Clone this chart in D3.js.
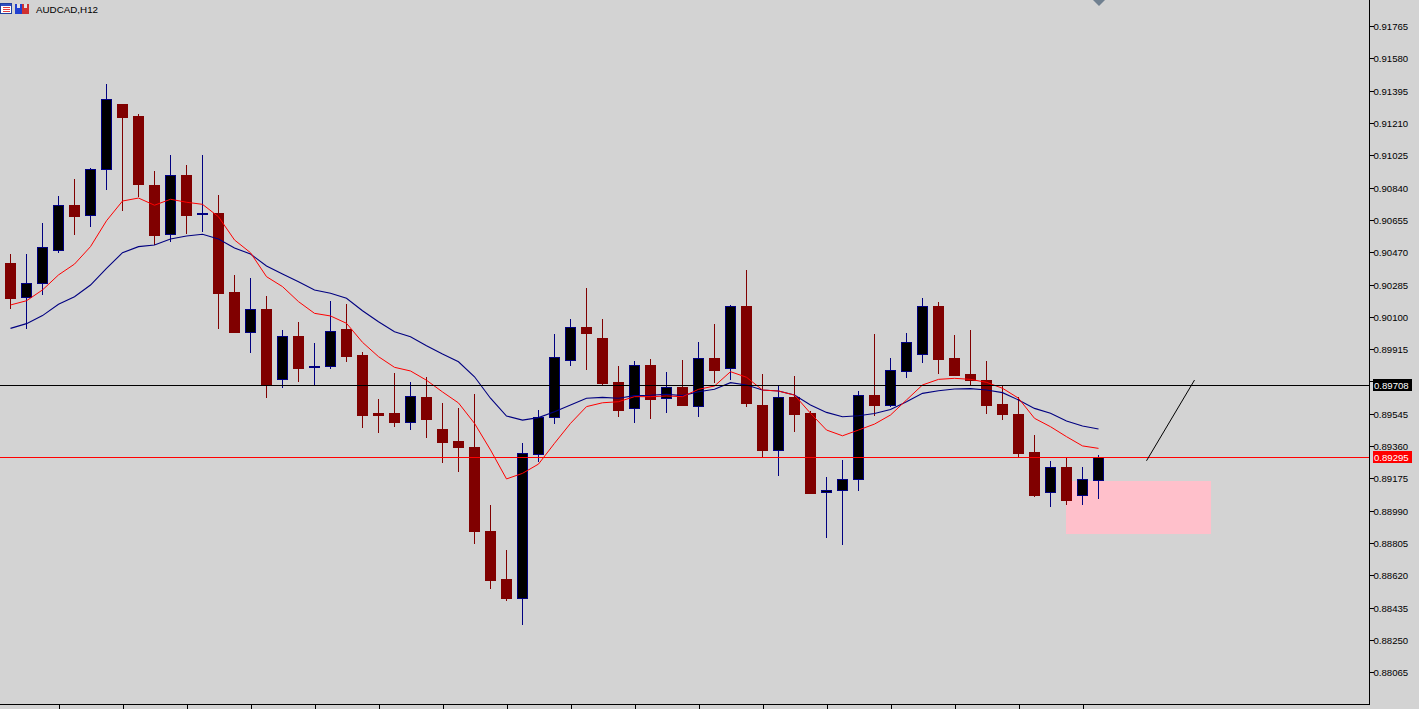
<!DOCTYPE html>
<html>
<head>
<meta charset="utf-8">
<script src="https://cdn.jsdelivr.net/npm/d3@7"></script>
<style>
  html, body { margin: 0; padding: 0; background: #d3d3d3; overflow: hidden; }
  svg { display: block; }
</style>
</head>
<body>
<svg id="chart" width="1419" height="709"></svg>
<script>
// ---------- DATA (AUDCAD, H12) ----------
const symbolTitle = "AUDCAD,H12";

const opens = [
  0.90408, 0.90212, 0.90292, 0.90484, 0.90740, 0.90681, 0.90945, 0.91318, 0.91250, 0.90853,
  0.90573, 0.90912, 0.90689, 0.90694, 0.90242, 0.90015, 0.90145, 0.89746, 0.89990, 0.89810,
  0.89820, 0.90030, 0.89882, 0.89549, 0.89549, 0.89496, 0.89641, 0.89458, 0.89389, 0.89355,
  0.88874, 0.88599, 0.88492, 0.89316, 0.89525, 0.89855, 0.90042, 0.89979, 0.89727, 0.89576,
  0.89823, 0.89634, 0.89698, 0.89591, 0.89864, 0.89805, 0.90162, 0.89595, 0.89339, 0.89641,
  0.89549, 0.89100, 0.89107, 0.89173, 0.89652, 0.89597, 0.89788, 0.89885, 0.90162, 0.89863,
  0.89771, 0.89738, 0.89599, 0.89544, 0.89326, 0.89095, 0.89240, 0.89078, 0.89168
];
const highs = [
  0.90460, 0.90460, 0.90637, 0.90792, 0.90889, 0.90952, 0.91433, 0.91318, 0.91261, 0.90935,
  0.91027, 0.90969, 0.91027, 0.90797, 0.90339, 0.90322, 0.90219, 0.90025, 0.90070, 0.89950,
  0.90191, 0.90173, 0.89899, 0.89630, 0.89780, 0.89729, 0.89757, 0.89607, 0.89578, 0.89658,
  0.89023, 0.88765, 0.89378, 0.89567, 0.90002, 0.90088, 0.90265, 0.90088, 0.89819, 0.89847,
  0.89859, 0.89784, 0.89853, 0.89956, 0.90059, 0.90168, 0.90368, 0.89773, 0.89704, 0.89761,
  0.89561, 0.89183, 0.89280, 0.89677, 0.90002, 0.89864, 0.90007, 0.90208, 0.90185, 0.89996,
  0.90025, 0.89847, 0.89704, 0.89639, 0.89424, 0.89275, 0.89294, 0.89240, 0.89307
];
const lows = [
  0.90152, 0.90038, 0.90229, 0.90473, 0.90576, 0.90622, 0.90834, 0.90712, 0.90792, 0.90519,
  0.90536, 0.90580, 0.90593, 0.90038, 0.90012, 0.89899, 0.89643, 0.89700, 0.89734, 0.89717,
  0.89809, 0.89849, 0.89471, 0.89442, 0.89477, 0.89460, 0.89414, 0.89271, 0.89219, 0.88807,
  0.88549, 0.88481, 0.88343, 0.89275, 0.89492, 0.89826, 0.89803, 0.89717, 0.89532, 0.89500,
  0.89523, 0.89557, 0.89595, 0.89534, 0.89729, 0.89746, 0.89591, 0.89299, 0.89195, 0.89448,
  0.89090, 0.88841, 0.88801, 0.89110, 0.89536, 0.89591, 0.89757, 0.89843, 0.89780, 0.89767,
  0.89711, 0.89551, 0.89517, 0.89299, 0.89076, 0.89019, 0.89030, 0.89030, 0.89065
];
const closes = [
  0.90210, 0.90292, 0.90498, 0.90739, 0.90679, 0.90945, 0.91345, 0.91246, 0.90862, 0.90570,
  0.90910, 0.90685, 0.90697, 0.90238, 0.90015, 0.90145, 0.89717, 0.89990, 0.89809, 0.89821,
  0.90017, 0.89878, 0.89540, 0.89540, 0.89500, 0.89645, 0.89517, 0.89385, 0.89357, 0.88876,
  0.88595, 0.88492, 0.89319, 0.89525, 0.89868, 0.90040, 0.90009, 0.89723, 0.89568, 0.89823,
  0.89631, 0.89698, 0.89597, 0.89863, 0.89797, 0.90160, 0.89608, 0.89339, 0.89641, 0.89545,
  0.89093, 0.89109, 0.89170, 0.89651, 0.89597, 0.89794, 0.89954, 0.90160, 0.89860, 0.89769,
  0.89738, 0.89597, 0.89545, 0.89322, 0.89080, 0.89239, 0.89053, 0.89170, 0.89295
];
// fast moving average (red)
const maFast = [
  0.90168, 0.90192, 0.90254, 0.90340, 0.90402, 0.90502, 0.90650, 0.90763, 0.90780, 0.90739,
  0.90773, 0.90756, 0.90744, 0.90673, 0.90540, 0.90467, 0.90330, 0.90273, 0.90187, 0.90120,
  0.90105, 0.90063, 0.89954, 0.89872, 0.89811, 0.89790, 0.89737, 0.89670, 0.89607, 0.89490,
  0.89338, 0.89172, 0.89204, 0.89257, 0.89376, 0.89490, 0.89586, 0.89608, 0.89614, 0.89643,
  0.89643, 0.89647, 0.89643, 0.89685, 0.89704, 0.89786, 0.89754, 0.89681, 0.89675, 0.89652,
  0.89548, 0.89452, 0.89419, 0.89452, 0.89486, 0.89538, 0.89624, 0.89710, 0.89742, 0.89748,
  0.89742, 0.89725, 0.89691, 0.89634, 0.89519, 0.89471, 0.89414, 0.89361, 0.89347
];
// slow moving average (navy)
const maSlow = [
  0.90034, 0.90061, 0.90107, 0.90172, 0.90215, 0.90282, 0.90378, 0.90467, 0.90502, 0.90511,
  0.90546, 0.90563, 0.90573, 0.90546, 0.90494, 0.90460, 0.90391, 0.90345, 0.90301, 0.90254,
  0.90235, 0.90206, 0.90135, 0.90072, 0.90015, 0.89986, 0.89935, 0.89887, 0.89843, 0.89757,
  0.89634, 0.89532, 0.89509, 0.89523, 0.89557, 0.89595, 0.89634, 0.89639, 0.89634, 0.89649,
  0.89651, 0.89657, 0.89649, 0.89671, 0.89685, 0.89723, 0.89710, 0.89681, 0.89675, 0.89652,
  0.89595, 0.89553, 0.89528, 0.89534, 0.89547, 0.89570, 0.89614, 0.89662, 0.89677, 0.89687,
  0.89689, 0.89681, 0.89666, 0.89624, 0.89576, 0.89548, 0.89504, 0.89475, 0.89458
];
const priceTicks = [
  0.91765, 0.91580, 0.91395, 0.91210, 0.91025, 0.90840, 0.90655, 0.90470, 0.90285, 0.90100,
  0.89915, 0.89730, 0.89545, 0.89360, 0.89175, 0.88990, 0.88805, 0.88620, 0.88435, 0.88250, 0.88065
];
const timeTickBars = [3, 7, 11, 15, 19, 23, 27, 31, 35, 39, 43, 47, 51, 55, 59, 63, 67];
const levelLine = 0.89708;        // black horizontal line
const bidLine = 0.89295;          // red bid line
const zoneBars = [66, 75];        // pink rectangle, bar span
const zonePrices = [0.89160, 0.88858];
const trendBars = [71, 74];       // drawn trend segment
const trendPrices = [0.89276, 0.89738];

// ---------- LAYOUT ----------
const W = 1419, H = 709;
const axisX = 1369.5, axisBottom = 704.5;
const bg = "#d3d3d3", bull = "#000000", bullEdge = "#000080", bear = "#800000";

const svg = d3.select("#chart");
svg.append("rect").attr("width", W).attr("height", H).attr("fill", bg);

const x = d3.scaleLinear().domain([0, 68]).range([10.5, 1098.5]);
const y = d3.scaleLinear().domain([0.88065, 0.91765]).range([672.3, 26]);
const py = v => Math.round(y(v));

// pink zone (background object)
svg.append("rect")
  .attr("x", Math.round(x(zoneBars[0])) - 1)
  .attr("y", py(zonePrices[0]))
  .attr("width", Math.round(x(zoneBars[1])) - Math.round(x(zoneBars[0])) + 1)
  .attr("height", py(zonePrices[1]) - py(zonePrices[0]))
  .attr("fill", "#ffc0cb");

// candles
const idx = d3.range(closes.length);
const cg = svg.append("g").attr("shape-rendering", "crispEdges");
cg.selectAll("line.wick").data(idx).join("line")
  .attr("x1", i => x(i)).attr("x2", i => x(i))
  .attr("y1", i => py(highs[i])).attr("y2", i => py(lows[i]) + 1)
  .attr("stroke", i => closes[i] >= opens[i] ? bullEdge : bear)
  .attr("stroke-width", 1);
cg.selectAll("rect.body").data(idx).join("rect")
  .each(function(i) {
    const up = closes[i] >= opens[i];
    const top = py(Math.max(opens[i], closes[i]));
    const bot = py(Math.min(opens[i], closes[i]));
    const sel = d3.select(this);
    if (up) {
      sel.attr("x", x(i) - 5).attr("width", 10)
         .attr("y", top + 0.5).attr("height", Math.max(bot - top, 1))
         .attr("fill", bull).attr("stroke", bullEdge).attr("stroke-width", 1);
    } else {
      sel.attr("x", x(i) - 5.5).attr("width", 11)
         .attr("y", top).attr("height", Math.max(bot - top, 1) + 1)
         .attr("fill", bear);
    }
  });

// moving averages
const line = d3.line().x((d, i) => x(i)).y(d => y(d));
svg.append("path").datum(maSlow).attr("d", line)
  .attr("fill", "none").attr("stroke", "#000080").attr("stroke-width", 1.1);
svg.append("path").datum(maFast).attr("d", line)
  .attr("fill", "none").attr("stroke", "#ff0000").attr("stroke-width", 1);

// horizontal lines
const hl = svg.append("g").attr("shape-rendering", "crispEdges");
hl.append("line").attr("x1", 0).attr("x2", axisX)
  .attr("y1", py(levelLine) + 0.5).attr("y2", py(levelLine) + 0.5)
  .attr("stroke", "#000").attr("stroke-width", 1);
hl.append("line").attr("x1", 0).attr("x2", axisX)
  .attr("y1", py(bidLine) + 0.5).attr("y2", py(bidLine) + 0.5)
  .attr("stroke", "#ff0000").attr("stroke-width", 1);

// trend segment
svg.append("line")
  .attr("x1", x(trendBars[0])).attr("y1", y(trendPrices[0]))
  .attr("x2", x(trendBars[1])).attr("y2", y(trendPrices[1]))
  .attr("stroke", "#000").attr("stroke-width", 1);

// price axis (right)
const fmt = d3.format(".5f");
const yAxis = d3.axisRight(y).tickValues(priceTicks).tickFormat(fmt)
  .tickSize(4).tickPadding(0).tickSizeOuter(0);
const ya = svg.append("g").attr("transform", `translate(${axisX},0)`).call(yAxis);
ya.select(".domain").remove();
ya.selectAll(".tick line").attr("stroke", "#000").attr("shape-rendering", "crispEdges");
ya.selectAll(".tick text").attr("fill", "#000")
  .attr("font-family", "'Liberation Sans', Arial, sans-serif").attr("font-size", 9.6)
  .attr("dy", "0.33em");
ya.selectAll(".tick").attr("transform", d => `translate(0,${py(d) + 0.5})`);

// time axis ticks (labels cut off below the window)
const xAxis = d3.axisBottom(x).tickValues(timeTickBars).tickFormat(() => "")
  .tickSize(5).tickSizeOuter(0);
const xa = svg.append("g").attr("transform", `translate(0,${axisBottom})`).call(xAxis);
xa.select(".domain").remove();
xa.selectAll(".tick line").attr("stroke", "#000").attr("shape-rendering", "crispEdges");

// frame
const fr = svg.append("g").attr("shape-rendering", "crispEdges");
fr.append("line").attr("x1", axisX).attr("x2", axisX).attr("y1", 0).attr("y2", axisBottom)
  .attr("stroke", "#000");
fr.append("line").attr("x1", 0).attr("x2", axisX).attr("y1", axisBottom).attr("y2", axisBottom)
  .attr("stroke", "#000");

// price labels
function priceTag(v, fill) {
  const yy = py(v);
  const g = svg.append("g");
  g.append("rect").attr("x", 1373).attr("y", yy - 6).attr("width", 39).attr("height", 12)
    .attr("fill", fill).attr("shape-rendering", "crispEdges");
  g.append("text").attr("x", 1374).attr("y", yy + 0.5).attr("dy", "0.33em")
    .attr("font-family", "'Liberation Sans', Arial, sans-serif").attr("font-size", 9.6)
    .attr("fill", "#fff").text(fmt(v));
}
priceTag(levelLine, "#000");
priceTag(bidLine, "#ff0000");

// title with icons
const ic = svg.append("g").attr("shape-rendering", "crispEdges");
ic.append("rect").attr("x", 0.5).attr("y", 3.5).attr("width", 11).attr("height", 10)
  .attr("fill", "#fff").attr("stroke", "#1f3fa0");
ic.append("rect").attr("x", 1).attr("y", 4).attr("width", 10).attr("height", 2).attr("fill", "#3050c0");
[7, 9, 11].forEach(yy => ic.append("line").attr("x1", 3).attr("x2", 10)
  .attr("y1", yy + 0.5).attr("y2", yy + 0.5).attr("stroke", "#e04040"));
ic.append("rect").attr("x", 15).attr("y", 4).attr("width", 7).attr("height", 10).attr("fill", "#2040d0");
ic.append("rect").attr("x", 22).attr("y", 4).attr("width", 7).attr("height", 10).attr("fill", "#d03030");
ic.append("rect").attr("x", 17).attr("y", 4).attr("width", 3).attr("height", 4).attr("fill", "#e0e0e0");
ic.append("rect").attr("x", 24).attr("y", 4).attr("width", 3).attr("height", 4).attr("fill", "#e0e0e0");
svg.append("text").attr("x", 36).attr("y", 13)
  .attr("font-family", "'Liberation Sans', Arial, sans-serif").attr("font-size", 9.8)
  .attr("fill", "#000").text(symbolTitle);

// small marker at top
svg.append("path").attr("d", "M1093,0 L1105,0 L1099,6 Z").attr("fill", "#708090");
</script>
</body>
</html>
